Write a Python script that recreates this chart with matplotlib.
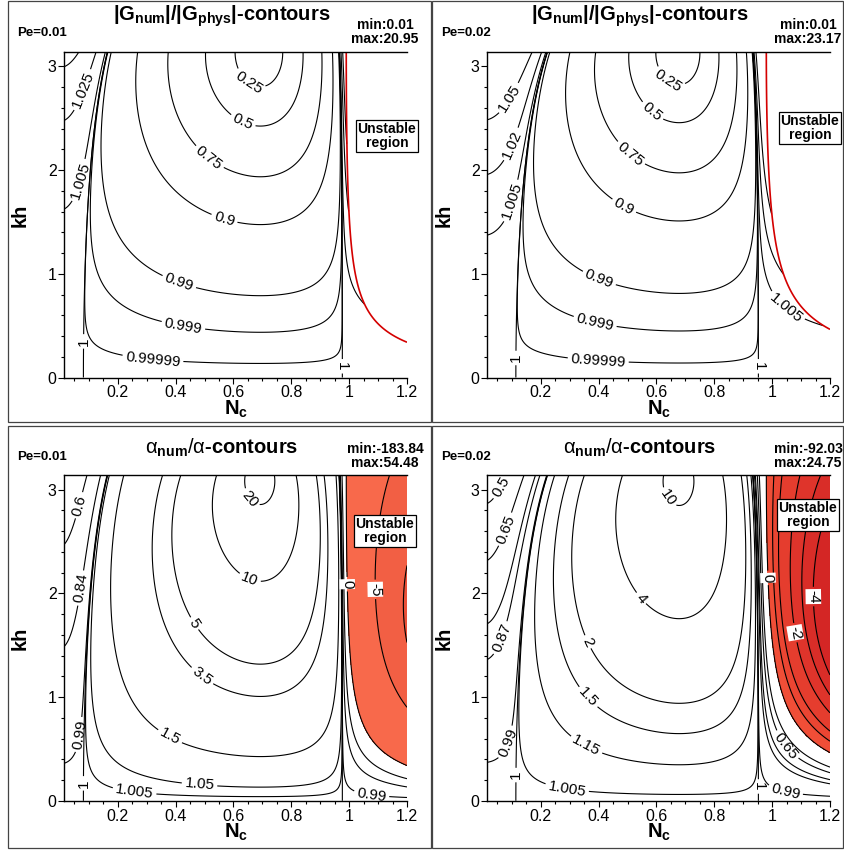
import numpy as np
import matplotlib
matplotlib.use('Agg')
import matplotlib.pyplot as plt
from matplotlib.patches import Rectangle
from matplotlib.ticker import MultipleLocator, FuncFormatter

plt.rcParams['font.family'] = ['Liberation Sans', 'DejaVu Sans']
plt.rcParams['mathtext.fontset'] = 'custom'
plt.rcParams['mathtext.rm'] = 'Liberation Sans'
plt.rcParams['mathtext.bf'] = 'Liberation Sans:bold'
plt.rcParams['mathtext.it'] = 'Liberation Sans:italic'

# ---- data ----
pe_vals = [0.01, 0.02]
minmax_G = ['min:0.01\nmax:20.95', 'min:0.01\nmax:23.17']
minmax_a = ['min:-183.84\nmax:54.48', 'min:-92.03\nmax:24.75']

levels_G = [[0.25, 0.5, 0.75, 0.9, 0.99, 0.999, 0.99999, 1, 1.005, 1.025, 1.05],
            [0.25, 0.5, 0.75, 0.9, 0.99, 0.999, 0.99999, 1, 1.005, 1.02, 1.05]]
levels_a = [[-10, -5, 0, 0.6, 0.84, 0.99, 1, 1.005, 1.05, 1.5, 3.5, 5, 10, 20],
            [-4, -3, -2, -1, -0.5, 0, 0.5, 0.65, 0.8, 0.87, 0.99, 1, 1.005, 1.15, 1.5, 2, 4, 10]]
fill_a = [[-1e9, -10, -5, 0], [-1e9, -4, -3, -2, -1, -0.5, 0]]
fill_cols = [['#ea5038', '#f25f44', '#f8694b'],
             ['#d42625', '#d92d28', '#df342b', '#e53d2e', '#eb4532', '#f04e37']]

# where the contour labels sit: (level, Nc, kh)
lab_G = [[(1.025, 0.064, 2.79), (0.25, 0.646, 2.82), (0.5, 0.629, 2.45), (0.75, 0.507, 2.09),
          (1.005, 0.071, 1.90), (0.9, 0.565, 1.50), (0.99, 0.408, 0.89), (0.999, 0.426, 0.49),
          (0.99999, 0.321, 0.17), (1, 0.078, 0.35), (1, 0.983, 0.11)],
         [(1.05, 0.087, 2.70), (1.02, 0.099, 2.25), (1.005, 0.104, 1.70), (0.25, 0.635, 2.84),
          (0.5, 0.583, 2.56), (0.75, 0.508, 2.15), (0.9, 0.485, 1.64), (0.99, 0.398, 0.93),
          (0.999, 0.387, 0.53), (0.99999, 0.398, 0.145), (1, 0.110, 0.19), (1, 0.952, 0.11),
          (1.005, 1.038, 0.64)]]
lab_a = [[(0.6, 0.066, 2.85), (0.84, 0.077, 2.05), (0.99, 0.066, 0.64), (1, 0.083, 0.17),
          (20, 0.656, 2.91), (10, 0.656, 2.14), (5, 0.459, 1.70), (3.5, 0.482, 1.17),
          (1.5, 0.378, 0.61), (1.05, 0.482, 0.14), (1.005, 0.257, 0.075), (0, 1.003, 2.09),
          (-5, 1.096, 2.04), (0.99, 1.078, 0.075)],
         [(0.5, 0.053, 3.04), (0.65, 0.076, 2.62), (0.87, 0.064, 1.57), (0.99, 0.076, 0.57),
          (1, 0.110, 0.25), (10, 0.633, 2.91), (4, 0.541, 1.94), (2, 0.352, 1.52),
          (1.5, 0.363, 1.0), (1.15, 0.352, 0.51), (1.005, 0.289, 0.09), (0, 0.984, 2.15),
          (-2, 1.076, 1.62), (-4, 1.139, 1.97), (0.65, 1.041, 0.52), (0.99, 1.047, 0.11),
          (1, 0.949, 0.14)]]

XMIN, XMAX = 0.015, 1.2
W, H = 845, 850


def fields(r):
    # Lax-Wendroff type scheme for convection-diffusion, G = 1 - i Nc sin(kh) - (Nc^2+2r)(1-cos kh)
    nc = np.linspace(XMIN, XMAX, 700)
    kh = np.linspace(0.002, np.pi, 700)
    C, T = np.meshgrid(nc, kh)
    s = 1 - np.cos(T)
    A = C**2 + 2*r
    f = -4*r + (A**2 - C**2)*s          # (|G|^2-1)/s, >0 means unstable
    lng = 0.5*np.log1p(np.maximum(s*f, -1 + 1e-14))
    ratio_G = np.ma.masked_where(f > 0, np.exp(lng + r*T**2))
    ratio_a = -lng/(r*T**2)
    return C, T, f, ratio_G, ratio_a


def px_ax(l, t, r, b):
    return [l/W, 1 - b/H, (r - l)/W, (b - t)/H]


def style_axes(ax, cx, by):
    ax.set_xlim(XMIN, XMAX)
    ax.set_ylim(0, np.pi)
    for sp in ['left', 'bottom', 'top']:
        ax.spines[sp].set_linewidth(1.0)
    ax.spines['right'].set_visible(False)
    ax.xaxis.set_major_locator(MultipleLocator(0.2))
    ax.xaxis.set_minor_locator(MultipleLocator(0.05))
    ax.yaxis.set_major_locator(MultipleLocator(1))
    ax.yaxis.set_minor_locator(MultipleLocator(0.2))
    ax.xaxis.set_major_formatter(FuncFormatter(lambda v, p: '%g' % round(v, 2)))
    ax.yaxis.set_major_formatter(FuncFormatter(lambda v, p: '%g' % round(v, 2)))
    ax.tick_params(which='both', direction='out', top=False, right=False, width=0.8,
                   labelsize=11.5, pad=1)
    ax.tick_params(which='major', length=4.5)
    ax.tick_params(which='minor', length=2.5)
    fig.text(cx/W, 1 - (by + 21)/H, r'$\mathbf{N_c}$', ha='center', va='top', fontsize=14.5)


def put_labels(ax, cs, labs, boxed):
    fmt = lambda v: '%g' % v
    ax.clabel(cs, manual=[], inline=True, fmt=fmt, fontsize=11)
    lv = list(cs.levels)
    for lev, x, y in labs:
        idx = lv.index(lev)
        cs.labelIndiceList = [idx]
        cs.labelLevelList = [lev]*len(lv)
        cs.add_label_near(x, y, inline=True, inline_spacing=3)
        if lev in boxed:
            cs.labelTexts[-1].set_bbox(dict(facecolor='white', edgecolor='none', pad=0.6))


fig = plt.figure(figsize=(W/100, H/100), dpi=100)

cols = [(64.3, 407.0), (487.3, 830.0)]
frames = [(8, 431), (432, 843)]

for j, r in enumerate(pe_vals):
    C, T, f, rG, ra = fields(r)
    l, rr = cols[j]
    fx0, fx1 = frames[j]
    cx = (fx0 + fx1)/2 + 2

    # ---- top row: |G_num|/|G_phys| ----
    ax = fig.add_axes(px_ax(l, 51.7, rr, 377.7))
    cs = ax.contour(C, T, rG, levels=levels_G[j], colors='black', linewidths=0.8)
    ax.contour(C, T, f, levels=[0], colors='#d40000', linewidths=1.2)
    put_labels(ax, cs, lab_G[j], [])
    style_axes(ax, (l + rr)/2, 377.7)
    fig.text((cx)/W, 1 - 16/H, r'$\mathbf{|G_{num}|/|G_{phys}|}$-contours',
             ha='center', va='center', fontsize=14.5, fontweight='bold')
    fig.text((fx0 + 9)/W, 1 - 33/H, 'Pe=%g' % r, ha='left', va='center',
             fontsize=9.5, fontweight='bold')
    fig.text((rr - 22)/W, 1 - 32/H, minmax_G[j], ha='center', va='center', fontsize=10,
             fontweight='bold', linespacing=0.95)
    fig.text(12/W + fx0/W + 0.0, 1 - 215/H, 'kh', rotation=90, ha='center', va='center',
             fontsize=14.5, fontweight='bold')
    fig.text((rr - 20)/W, 1 - (136 - 8*j)/H, 'Unstable\nregion', ha='center', va='center',
             fontsize=10, fontweight='bold', linespacing=0.95,
             bbox=dict(facecolor='white', edgecolor='black', boxstyle='square,pad=0.15', lw=0.9))

    # ---- bottom row: alpha_num/alpha ----
    ax = fig.add_axes(px_ax(l, 475, rr, 801))
    ax.contourf(C, T, ra, levels=fill_a[j], colors=fill_cols[j])
    cs = ax.contour(C, T, ra, levels=levels_a[j], colors='black', linewidths=0.8,
                    negative_linestyles='solid')
    put_labels(ax, cs, lab_a[j], [0, -2, -4, -5])
    style_axes(ax, (l + rr)/2, 801)
    fig.text(cx/W, 1 - 448/H, r'$\mathrm{\alpha}_{\mathbf{num}}/\mathrm{\alpha}$-contours',
             ha='center', va='center', fontsize=14.5, fontweight='bold')
    fig.text((fx0 + 9)/W, 1 - 457/H, 'Pe=%g' % r, ha='left', va='center',
             fontsize=9.5, fontweight='bold')
    fig.text((rr - 22)/W, 1 - 456/H, minmax_a[j], ha='center', va='center', fontsize=10,
             fontweight='bold', linespacing=0.95)
    fig.text(12/W + fx0/W, 1 - 638/H, 'kh', rotation=90, ha='center', va='center',
             fontsize=14.5, fontweight='bold')
    fig.text((rr - 22)/W, 1 - (531 - 16*j)/H, 'Unstable\nregion', ha='center', va='center',
             fontsize=10, fontweight='bold', linespacing=0.95,
             bbox=dict(facecolor='white', edgecolor='black', boxstyle='square,pad=0.15', lw=0.9))

# panel frames
for (x0, x1) in frames:
    for (y0, y1) in [(1, 422), (426, 848)]:
        fig.add_artist(Rectangle((x0/W, 1 - y1/H), (x1 - x0)/W, (y1 - y0)/H, fill=False,
                                 edgecolor='#444444', lw=0.9, transform=fig.transFigure))

fig.savefig('out.png', dpi=100)
